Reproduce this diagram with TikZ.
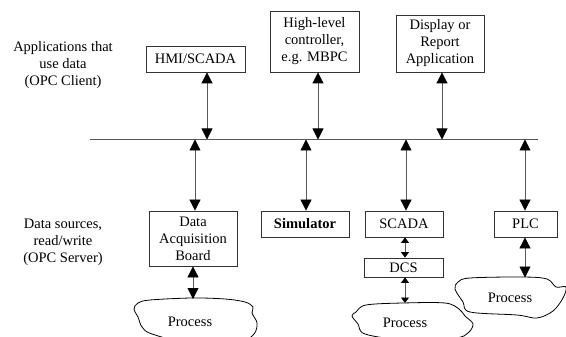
\documentclass[tikz,border=0pt]{standalone}
\usepackage{fontspec}
\setmainfont{Liberation Serif}
\usetikzlibrary{arrows.meta}
\tikzset{
  box/.style={draw=black!80, line width=0.8pt, inner sep=0pt, align=center,
    font=\fontsize{14.5}{17}\selectfont},
  lbl/.style={align=center, inner sep=0pt, font=\fontsize{14.5}{17}\selectfont},
  link/.style={draw=black!65, line width=0.8pt,
    {Triangle[length=11pt,width=11pt,color=black]}-{Triangle[length=11pt,width=11pt,color=black]}},
  shortlink/.style={draw=black!65, line width=0.8pt,
    {Triangle[length=5.5pt,width=8pt,color=black]}-{Triangle[length=5.5pt,width=8pt,color=black]}},
  cloud/.style={draw=black, line width=0.8pt},
}
\begin{document}
\begin{tikzpicture}[x=1pt,y=-1pt]
\useasboundingbox (0,0) rectangle (566,337);

% side captions
\node[lbl] (capclient) at (63,65) {Applications that\\use data\\(OPC Client)};
\node[lbl] (capserver) at (63,242) {Data sources,\\read/write\\(OPC Server)};

% client applications
\node[box, minimum width=99pt, minimum height=26pt] (hmi) at (195.5,59) {HMI/SCADA};
\node[box, minimum width=89pt, minimum height=61pt] (hlc) at (314.5,41.5) {High-level\\controller,\\e.g. MBPC};
\node[box, minimum width=88pt, minimum height=57pt] (disp) at (440,43.5) {Display or\\Report\\Application};

% OPC bus
\coordinate (busL) at (90,139.5);
\coordinate (busR) at (538,139.5);
\draw[draw=black!65, line width=0.8pt] (busL) -- (busR);

% server side data sources
\node[box, minimum width=88pt, minimum height=55pt] (daq) at (193,238.5) {Data\\Acquisition\\Board};
\node[box, minimum width=88pt, minimum height=26pt] (sim) at (305,224) {\bfseries Simulator};
\node[box, minimum width=78pt, minimum height=26pt] (scada) at (404,224) {SCADA};
\node[box, minimum width=79pt, minimum height=19pt] (dcs) at (403.5,267.5) {DCS};
\node[box, minimum width=63pt, minimum height=26pt] (plc) at (525.5,224) {PLC};

% process clouds
\draw[cloud] plot[smooth cycle, tension=0.55] coordinates {
  (138,303) (150,300) (192,298) (225,299) (245,302) (253,307) (252,313)
  (257,323) (254,334) (240,341) (190,343) (152,334) (142,327) (138,317) (134,309)};
\node[lbl] (proc1) at (190,322) {Process};

\draw[cloud] plot[smooth cycle, tension=0.55] coordinates {
  (356,312) (366,305) (403,303) (445,303) (459,309) (465,316) (473,324)
  (468,333) (455,338) (405,340) (365,334) (358,324) (352,316)};
\node[lbl] (proc2) at (405,323) {Process};

\draw[cloud] plot[smooth cycle, tension=0.55] coordinates {
  (458,282) (470,278) (523,277) (547,279) (556,287) (566,287) (563,298)
  (553,311) (537,318) (517,315) (470,312) (463,302) (455,289)};
\node[lbl] (proc3) at (510,298) {Process};

% bus taps
\coordinate (t1) at (207,139.5);
\coordinate (t2) at (318,139.5);
\coordinate (t3) at (442,139.5);
\coordinate (s1) at (195,139.5);
\coordinate (s2) at (306,139.5);
\coordinate (s3) at (406,139.5);
\coordinate (s4) at (525,139.5);

\draw[link] (hmi.south -| t1) -- (t1);
\draw[link] (hlc.south -| t2) -- (t2);
\draw[link] (disp.south -| t3) -- (t3);

\draw[link] (s1) -- (daq.north -| s1);
\draw[link] (s2) -- (sim.north -| s2);
\draw[link] (s3) -- (scada.north -| s3);
\draw[link] (s4) -- (plc.north -| s4);

% process links
\coordinate (p1) at (193,299);
\coordinate (p2) at (405,303);
\coordinate (p3) at (525,277.5);
\draw[link] (daq.south -| p1) -- (p1);
\draw[shortlink] (scada.south -| p2) -- (dcs.north -| p2);
\draw[shortlink] (dcs.south -| p2) -- (p2);
\draw[link] (plc.south -| p3) -- (p3);
\end{tikzpicture}
\end{document}
